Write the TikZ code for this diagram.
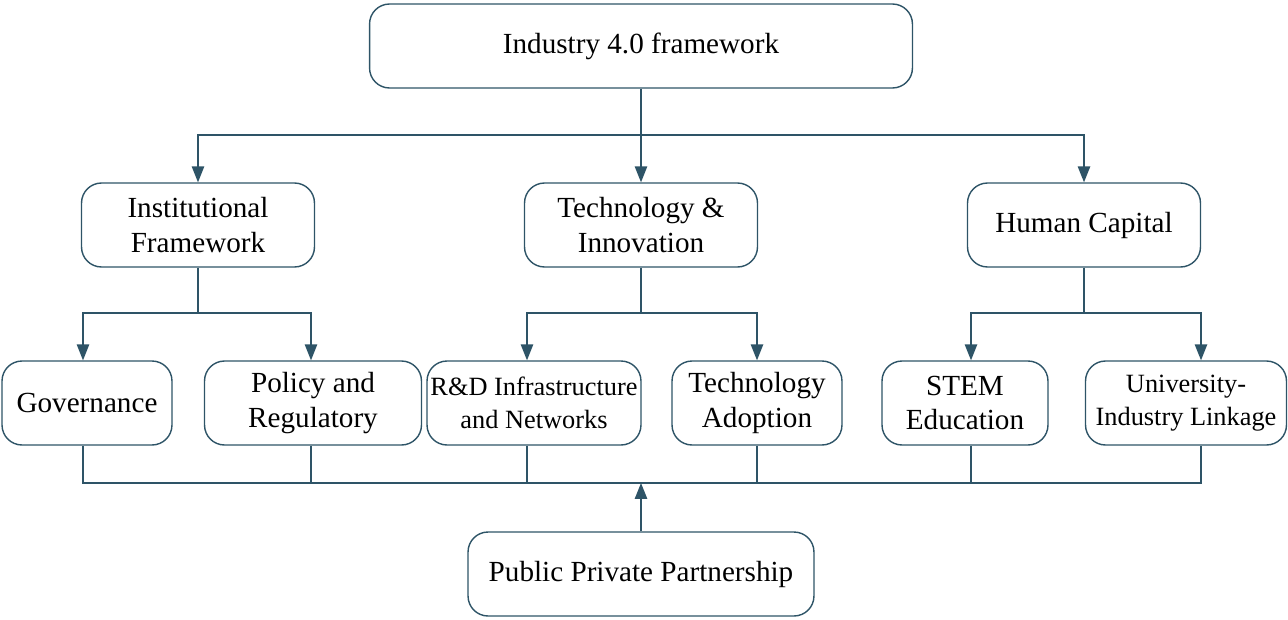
\documentclass[tikz,border=0pt]{standalone}
\usepackage{fontspec}
\setmainfont{Liberation Serif}
\usetikzlibrary{
	arrows.meta				% Allows Triangle style arrow tips
	, calc
}
\definecolor{linkcol}{HTML}{2E5467}

\begin{document}
\begin{tikzpicture}[x=0.02cm, y=-0.02cm]
			\begin{scope}[
				box/.style={draw=linkcol, line width=0.8pt, rounded corners=0.4cm, align=center,
					inner sep=1pt, minimum height=1.68cm, font=\fontsize{16.6pt}{19.5pt}\selectfont},
				smallbox/.style={box, font=\fontsize{15pt}{19pt}\selectfont},
				link/.style={draw=linkcol, line width=0.8pt},
				arrowlink/.style={link, -{Triangle[length=9pt, width=7pt]}}]

				\useasboundingbox (0, 0) rectangle (1288, 619);

				%% Level 1
				\node[box, minimum width=10.86cm] (frame) at (641, 46) {Industry 4.0 framework};

				%% Level 2
				\node[box, minimum width=4.66cm] (inst) at (198, 225) {Institutional\\Framework};
				\node[box, minimum width=4.66cm] (tech) at (641, 225) {Technology \&\\Innovation};
				\node[box, minimum width=4.66cm] (human) at (1084, 225) {Human Capital};

				%% Level 3
				\node[box, minimum width=3.4cm] (gov) at (87, 403) {Governance};
				\node[box, minimum width=4.34cm] (policy) at (313, 403) {Policy and\\Regulatory};
				\node[smallbox, minimum width=4.28cm] (rnd) at (534, 403) {R\&D Infrastructure\\and Networks};
				\node[box, minimum width=3.4cm] (adopt) at (757, 403) {Technology\\Adoption};
				\node[box, minimum width=3.32cm] (stem) at (965, 403) {STEM\\Education};
				\node[smallbox, minimum width=4.02cm] (univ) at (1186, 403) {University-\\Industry Linkage};

				%% Bottom
				\node[box, minimum width=6.92cm] (ppp) at (641, 574) {Public Private Partnership};

				% Top to level 2
				\coordinate (topbus) at (641, 135);
				\draw[link] (frame.south) -- (topbus);
				\draw[arrowlink] (topbus) -| (inst.north);
				\draw[arrowlink] (topbus) -- (tech.north);
				\draw[arrowlink] (topbus) -| (human.north);

				% Level 2 to level 3
				\coordinate (instbus) at (198, 313);
				\coordinate (techbus) at (641, 313);
				\coordinate (humanbus) at (1084, 313);
				\draw[link] (inst.south) -- (instbus);
				\draw[link] (tech.south) -- (techbus);
				\draw[link] (human.south) -- (humanbus);
				\draw[arrowlink] (instbus) -| ([xshift=-0.08cm]gov.north);
				\draw[arrowlink] (instbus) -| ([xshift=-0.04cm]policy.north);
				\draw[arrowlink] (techbus) -| ([xshift=-0.14cm]rnd.north);
				\draw[arrowlink] (techbus) -| (adopt.north);
				\draw[arrowlink] (humanbus) -| ([xshift=0.12cm]stem.north);
				\draw[arrowlink] (humanbus) -| ([xshift=0.3cm]univ.north);

				% Level 3 to partnership
				\coordinate (pppbus) at (641, 483);
				\draw[link] ([xshift=-0.08cm]gov.south) |- (pppbus) -| ([xshift=0.3cm]univ.south);
				\draw[link] ([xshift=-0.04cm]policy.south) -- ([xshift=-0.04cm]policy.south |- pppbus);
				\draw[link] ([xshift=-0.14cm]rnd.south) -- ([xshift=-0.14cm]rnd.south |- pppbus);
				\draw[link] (adopt.south) -- (adopt.south |- pppbus);
				\draw[link] ([xshift=0.12cm]stem.south) -- ([xshift=0.12cm]stem.south |- pppbus);
				\draw[arrowlink] (ppp.north) -- (pppbus);
			\end{scope}
		\end{tikzpicture}
\end{document}
